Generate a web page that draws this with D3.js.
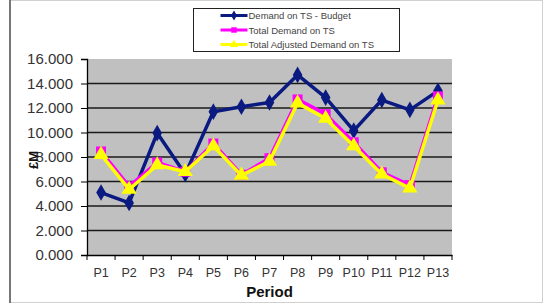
<!DOCTYPE html>
<html>
<head>
<meta charset="utf-8">
<script src="https://cdn.jsdelivr.net/npm/d3@7"></script>
<style>
  body { margin: 0; background: #fff; }
  svg { display: block; font-family: "Liberation Sans", Arial, sans-serif; }
</style>
</head>
<body>
<div id="chart"></div>
<script>
const periods = ["P1","P2","P3","P4","P5","P6","P7","P8","P9","P10","P11","P12","P13"];
const budget = [5.1, 4.25, 9.95, 6.6, 11.7, 12.1, 12.45, 14.7, 12.85, 10.15, 12.65, 11.85, 13.4];
const totalDemand = [8.45, 5.6, 7.55, 6.8, 9.1, 6.55, 7.9, 12.7, 11.5, 9.2, 6.75, 5.7, 12.95];
const adjustedDemand = [8.2, 5.35, 7.35, 6.8, 8.9, 6.5, 7.65, 12.4, 11.15, 8.9, 6.6, 5.45, 12.65];
const yTicks = [0, 2, 4, 6, 8, 10, 12, 14, 16];

const series = [
    { name: "Demand on TS - Budget", values: budget, color: "#0a1a80", marker: d3.symbolDiamond, size: 80 },
    { name: "Total Demand on TS", values: totalDemand, color: "#ff00ff", marker: d3.symbolSquare, size: 100 },
    { name: "Total Adjusted Demand on TS", values: adjustedDemand, color: "#ffff00", marker: d3.symbolTriangle, size: 100 }
];

const W = 551, H = 306;
const margin = { top: 59, right: 99, bottom: 51, left: 87 };
const width = W - margin.left - margin.right;
const height = H - margin.top - margin.bottom;

const svg = d3.select("#chart").append("svg")
    .attr("width", W)
    .attr("height", H);

// outer frame
svg.append("rect")
    .attr("x", 9.5).attr("y", 0.5)
    .attr("width", 533).attr("height", 302)
    .attr("fill", "none")
    .attr("stroke", "#d0d0d0");
svg.append("line")
    .attr("x1", 10).attr("x2", 10).attr("y1", 0).attr("y2", 303)
    .attr("stroke", "#777").attr("stroke-width", 2);

const g = svg.append("g")
    .attr("transform", `translate(${margin.left},${margin.top})`);

const x = d3.scaleBand()
    .domain(periods)
    .range([0, width]);
const y = d3.scaleLinear()
    .domain([0, 16])
    .range([height, 0]);

g.append("rect")
    .attr("width", width)
    .attr("height", height)
    .attr("fill", "#c0c0c0");

// gridlines
g.selectAll(".grid")
    .data(yTicks.filter(d => d > 0 && d < 16))
    .enter()
    .append("line")
    .attr("x1", 0).attr("x2", width)
    .attr("y1", d => y(d)).attr("y2", d => y(d))
    .attr("stroke", "#1a1a1a")
    .attr("stroke-width", 1.6);

// y axis
const yAxis = g.append("g")
    .call(d3.axisLeft(y).tickValues(yTicks).tickSize(6).tickPadding(8)
        .tickFormat(d3.format(".3f")));
yAxis.select(".domain").attr("stroke", "#000").attr("stroke-width", 1.3);
yAxis.selectAll(".tick line").attr("stroke", "#000");
yAxis.selectAll("text")
    .attr("font-size", "15px")
    .attr("fill", "#333")
    .attr("font-family", "Liberation Sans, Arial, sans-serif");

// x axis with ticks at category boundaries
const xAxis = g.append("g")
    .attr("transform", `translate(0,${height})`)
    .call(d3.axisBottom(x).tickSize(0).tickPadding(13));
xAxis.select(".domain").attr("stroke", "#000").attr("stroke-width", 1.3);
xAxis.selectAll("text")
    .attr("font-size", "12.5px")
    .attr("fill", "#333")
    .attr("font-family", "Liberation Sans, Arial, sans-serif");
xAxis.selectAll(".bound")
    .data(periods.concat(["end"]))
    .enter()
    .append("line")
    .attr("x1", (d, i) => i * x.step())
    .attr("x2", (d, i) => i * x.step())
    .attr("y1", 0).attr("y2", 5)
    .attr("stroke", "#000");

// axis titles
svg.append("text")
    .attr("x", margin.left + width / 2)
    .attr("y", 297)
    .attr("text-anchor", "middle")
    .attr("font-size", "15px")
    .attr("font-weight", "bold")
    .attr("fill", "#111")
    .text("Period");
svg.append("text")
    .attr("transform", "translate(38,160) rotate(-90)")
    .attr("text-anchor", "middle")
    .attr("font-size", "13px")
    .attr("font-weight", "bold")
    .attr("fill", "#111")
    .text("£M");

// lines and markers
const line = d3.line()
    .x((d, i) => x(periods[i]) + x.bandwidth() / 2)
    .y(d => y(d));

series.forEach(s => {
    g.append("path")
        .datum(s.values)
        .attr("fill", "none")
        .attr("stroke", s.color)
        .attr("stroke-width", 3.5)
        .attr("stroke-linejoin", "round")
        .attr("d", line);
    g.selectAll(null)
        .data(s.values)
        .enter()
        .append("path")
        .attr("transform", (d, i) => `translate(${x(periods[i]) + x.bandwidth() / 2},${y(d)})`)
        .attr("d", d3.symbol().type(s.marker).size(s.size)())
        .attr("fill", s.color);
});

// legend
const legend = svg.append("g").attr("transform", "translate(193.5,8.5)");
legend.append("rect")
    .attr("width", 206)
    .attr("height", 43)
    .attr("fill", "#fff")
    .attr("stroke", "#222");
series.forEach((s, i) => {
    const row = legend.append("g").attr("transform", `translate(0,${7 + i * 14.5})`);
    row.append("line")
        .attr("x1", 27).attr("x2", 54)
        .attr("stroke", s.color)
        .attr("stroke-width", 3);
    row.append("path")
        .attr("transform", "translate(40.5,0)")
        .attr("d", d3.symbol().type(s.marker).size(30)())
        .attr("fill", s.color);
    row.append("text")
        .attr("x", 55)
        .attr("y", 3.5)
        .attr("font-size", "9.5px")
        .attr("fill", "#444")
        .text(s.name);
});
</script>
</body>
</html>
